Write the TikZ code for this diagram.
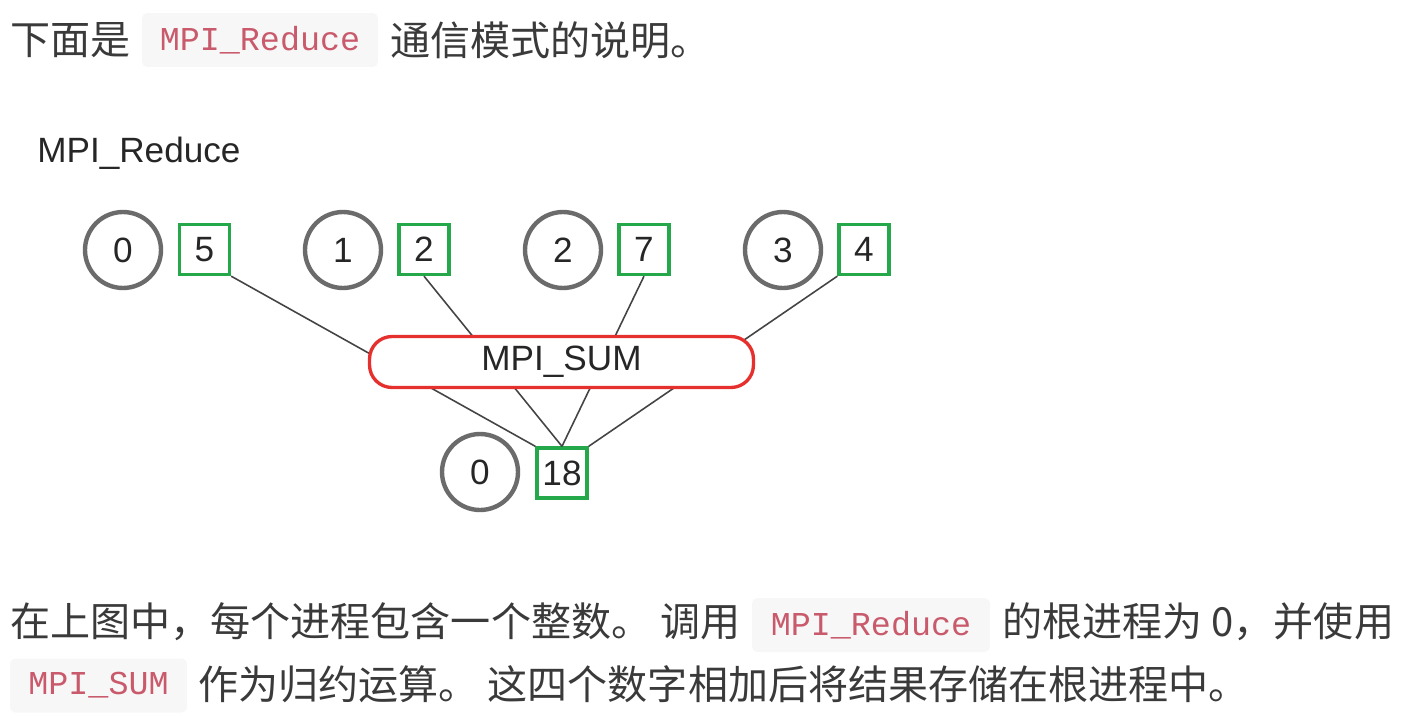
\documentclass[tikz,border=0pt]{standalone}
\usepackage{fontspec}
\newfontfamily\cjkfont{Noto Sans CJK SC}
\newfontfamily\codefont{Liberation Mono}
\newfontfamily\figfont{Liberation Sans}
\definecolor{textgray}{HTML}{3A3A3A}
\definecolor{codebg}{HTML}{F7F7F7}
\definecolor{codered}{HTML}{C95A6C}
\definecolor{procgray}{HTML}{6B6B6B}
\definecolor{valgreen}{HTML}{25A84A}
\definecolor{opred}{HTML}{E5302E}
\definecolor{linegray}{HTML}{444444}
\begin{document}
\begin{tikzpicture}
    [
    x=0.02cm,y=-0.02cm,
    txt/.style={anchor=west,inner sep=0pt,text=textgray,font=\cjkfont\fontsize{22.8}{26}\selectfont},
    code/.style={fill=codebg,rounded corners=3pt,inner sep=0pt,minimum height=1.08cm,text=codered,font=\codefont\fontsize{19}{22}\selectfont},
    proc/.style={circle,draw=procgray,line width=2.5pt,minimum size=1.52cm,inner sep=0pt,text=black!85,font=\figfont\fontsize{20}{24}\selectfont},
    val/.style={rectangle,draw=valgreen,line width=1.9pt,minimum size=1cm,inner sep=0pt,text=black!85,font=\figfont\fontsize{20}{24}\selectfont},
    op/.style={rectangle,rounded corners=0.45cm,draw=opred,line width=1.9pt,fill=white,minimum width=7.68cm,minimum height=1.02cm,text=black!85,font=\figfont\fontsize{20}{24}\selectfont},
    link/.style={draw=linegray,line width=0.9pt}
    ]
    \useasboundingbox (0,0) rectangle (1403,717);
    % top line
    \node (t1) at (10,40) [txt] {下面是};
    \node (c1) at (260,40) [code,minimum width=4.72cm] {MPI\_Reduce};
    \node (t2) at (390,40) [txt] {通信模式的说明。};
    % figure
    \node (title) at (37,153) [anchor=west,inner sep=0pt,text=black!85,font=\figfont\fontsize{20}{24}\selectfont] {MPI\_Reduce};
    \node (p0) at (123,250) [proc] {0};
    \node (v0) at (204.5,249.5) [val] {5};
    \node (p1) at (343,250) [proc] {1};
    \node (v1) at (424,249.5) [val] {2};
    \node (p2) at (563,250) [proc] {2};
    \node (v2) at (644,249.5) [val] {7};
    \node (p3) at (783,250) [proc] {3};
    \node (v3) at (864,249.5) [val] {4};
    \node (root) at (480,472) [proc] {0};
    \node (res) at (562,473) [val] {18};
    \draw [link] (v0.south east) to (res.north west);
    \draw [link] (v1.south) to (res.north);
    \draw [link] (v2.south) to (res.north);
    \draw [link] (v3.south west) to (res.north east);
    \node (sum) at (561.5,362) [op] {MPI\_SUM};
    % bottom lines
    \node (t3) at (10,622) [txt] {在上图中，每个进程包含一个整数。 调用};
    \node (c2) at (871,625) [code,minimum width=4.76cm] {MPI\_Reduce};
    \node (t4) at (1002,622) [txt] {的根进程为 0，并使用};
    \node (c3) at (98.5,685.5) [code,minimum width=3.54cm] {MPI\_SUM};
    \node (t5) at (198,684) [txt] {作为归约运算。 这四个数字相加后将结果存储在根进程中。};
\end{tikzpicture}
\end{document}
